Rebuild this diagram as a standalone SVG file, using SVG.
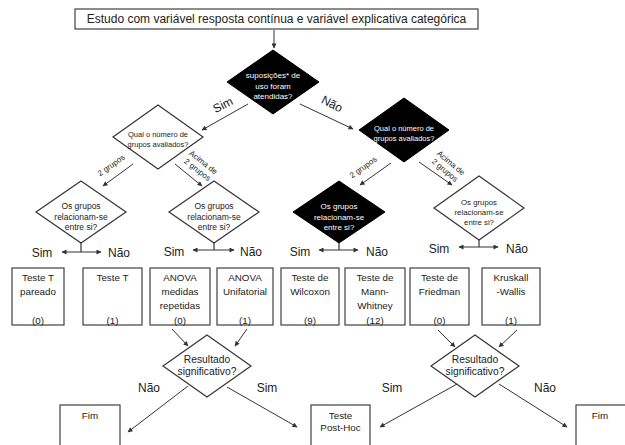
<svg xmlns="http://www.w3.org/2000/svg" width="625" height="445" viewBox="0 0 625 445">
<defs>
<marker id="ah" viewBox="0 0 10 10" refX="9" refY="5" markerWidth="6" markerHeight="5" markerUnits="userSpaceOnUse" orient="auto-start-reverse">
<path d="M0,0 L10,5 L0,10 z" fill="#333"/>
</marker>
<style>
text{font-family:"Liberation Sans",Arial,sans-serif;text-anchor:middle;fill:#222}
.box{fill:#fff;stroke:#404040;stroke-width:1.2}
.dw{fill:#fff;stroke:#333;stroke-width:1.2}
.db{fill:#000;stroke:#000;stroke-width:1}
.wt{fill:#fff}
.c{stroke:#333;stroke-width:1;fill:none;marker-end:url(#ah)}
.cc{stroke:#333;stroke-width:1;fill:none;marker-end:url(#ah);marker-start:url(#ah)}
.t{stroke:#333;stroke-width:1.2;fill:none}
.lbl{font-size:12px}
.bt{font-size:9.8px}
.sm{font-size:8px}
</style>
</defs>
<rect width="625" height="445" fill="#fff"/>

<g id="start">
<rect class="box" x="75" y="9" width="403" height="20"/>
<text x="276.5" y="23" font-size="12">Estudo com variável resposta contínua e variável explicativa categórica</text>
</g>

<g id="q-suposicoes">
<polygon class="db" points="273,50 319,82 273,114 227,82"/>
<text class="sm wt" x="273" y="78">suposições* de</text>
<text class="sm wt" x="273" y="88.5">uso foram</text>
<text class="sm wt" x="273" y="99">atendidas?</text>
</g>

<g id="q-grupos-sim">
<polygon class="dw" points="158,105 203,137 158,169 113,137"/>
<text x="158" y="137" font-size="7.5">Qual o número de</text>
<text x="158" y="147" font-size="7.5">grupos avaliados?</text>
</g>

<g id="q-grupos-nao">
<polygon class="db" points="404,98 449,130 404,162 359,130"/>
<text class="wt" x="404" y="131" font-size="7.5">Qual o número de</text>
<text class="wt" x="404" y="141" font-size="7.5">grupos avaliados?</text>
</g>

<g id="q-rel-a">
<polygon class="dw" points="81,181 126,212 81,243 36,212"/>
<text x="81" y="209" font-size="8.5">Os grupos</text>
<text x="81" y="219.5" font-size="8.5">relacionam-se</text>
<text x="81" y="230" font-size="8.5">entre si?</text>
</g>

<g id="q-rel-b">
<polygon class="dw" points="214,181 259,212 214,243 169,212"/>
<text x="214" y="209" font-size="8.5">Os grupos</text>
<text x="214" y="219.5" font-size="8.5">relacionam-se</text>
<text x="214" y="230" font-size="8.5">entre si?</text>
</g>

<g id="q-rel-c">
<polygon class="db" points="339,181 385,212 339,243 293,212"/>
<text class="wt" x="339" y="209" font-size="8">Os grupos</text>
<text class="wt" x="339" y="219.5" font-size="8">relacionam-se</text>
<text class="wt" x="339" y="230" font-size="8">entre si?</text>
</g>

<g id="q-rel-d">
<polygon class="dw" points="479,176 524,208 479,240 434,208"/>
<text x="479" y="205" font-size="7.8">Os grupos</text>
<text x="479" y="215" font-size="7.8">relacionam-se</text>
<text x="479" y="225" font-size="7.8">entre si?</text>
</g>

<g id="b1"><rect class="box" x="12" y="268" width="52" height="57"/>
<text class="bt" x="38" y="280.5">Teste T</text><text class="bt" x="38" y="295">pareado</text><text class="bt" x="38" y="323.5">(0)</text></g>
<g id="b2"><rect class="box" x="83" y="268" width="59" height="57"/>
<text class="bt" x="112.5" y="280.5">Teste T</text><text class="bt" x="112.5" y="323.5">(1)</text></g>
<g id="b3"><rect class="box" x="150" y="268" width="60" height="57"/>
<text class="bt" x="180" y="280.5">ANOVA</text><text class="bt" x="180" y="295">medidas</text><text class="bt" x="180" y="309">repetidas</text><text class="bt" x="180" y="323.5">(0)</text></g>
<g id="b4"><rect class="box" x="217" y="268" width="56" height="57"/>
<text class="bt" x="245" y="280.5">ANOVA</text><text class="bt" x="245" y="295">Unifatorial</text><text class="bt" x="245" y="323.5">(1)</text></g>
<g id="b5"><rect class="box" x="281" y="268" width="58" height="57"/>
<text class="bt" x="310" y="280.5">Teste de</text><text class="bt" x="310" y="295">Wilcoxon</text><text class="bt" x="310" y="323.5">(9)</text></g>
<g id="b6"><rect class="box" x="345" y="268" width="60" height="57"/>
<text class="bt" x="375" y="280.5">Teste de</text><text class="bt" x="375" y="295">Mann-</text><text class="bt" x="375" y="309">Whitney</text><text class="bt" x="375" y="323.5">(12)</text></g>
<g id="b7"><rect class="box" x="410" y="268" width="59" height="57"/>
<text class="bt" x="439.5" y="280.5">Teste de</text><text class="bt" x="439.5" y="295">Friedman</text><text class="bt" x="439.5" y="323.5">(0)</text></g>
<g id="b8"><rect class="box" x="482" y="268" width="58" height="57"/>
<text class="bt" x="511" y="280.5">Kruskall</text><text class="bt" x="511" y="295">-Wallis</text><text class="bt" x="511" y="323.5">(1)</text></g>

<g id="q-res-left">
<polygon class="dw" points="207,335 251,366 207,397 163,366"/>
<text x="207" y="362.5" font-size="10.3">Resultado</text>
<text x="207" y="374.5" font-size="10.3">significativo?</text>
</g>
<g id="q-res-right">
<polygon class="dw" points="475,335 519,366 475,397 431,366"/>
<text x="475" y="362.5" font-size="10.3">Resultado</text>
<text x="475" y="374.5" font-size="10.3">significativo?</text>
</g>

<g id="fim-left"><rect class="box" x="60" y="405" width="60" height="60"/>
<text class="bt" x="90" y="418.5">Fim</text></g>
<g id="posthoc"><rect class="box" x="311" y="405" width="59" height="60"/>
<text class="bt" x="340.5" y="418.5">Teste</text><text class="bt" x="340.5" y="430.5">Post-Hoc</text></g>
<g id="fim-right"><rect class="box" x="576" y="405" width="60" height="60"/>
<text class="bt" x="600" y="418.5">Fim</text></g>

<g id="connectors">
<line class="c" x1="274" y1="30" x2="274" y2="48"/>
<line class="c" x1="248" y1="104" x2="202" y2="130"/>
<line class="c" x1="300" y1="104" x2="353" y2="129"/>
<line class="c" x1="133" y1="164" x2="103" y2="186"/>
<line class="c" x1="175" y1="164" x2="202" y2="186"/>
<line class="c" x1="391" y1="163" x2="360" y2="185"/>
<line class="c" x1="419" y1="162" x2="452" y2="185"/>
<line class="t" x1="81" y1="243" x2="81" y2="252"/>
<line class="cc" x1="62" y1="252" x2="101" y2="252"/>
<line class="t" x1="214" y1="243" x2="214" y2="250"/>
<line class="cc" x1="193" y1="250" x2="234" y2="250"/>
<line class="t" x1="339" y1="243" x2="339" y2="250"/>
<line class="cc" x1="319" y1="250" x2="358" y2="250"/>
<line class="t" x1="479" y1="240" x2="479" y2="247"/>
<line class="cc" x1="459" y1="247" x2="498" y2="247"/>
<line class="c" x1="172" y1="329" x2="188" y2="346"/>
<line class="c" x1="247" y1="329" x2="235" y2="346"/>
<line class="c" x1="438" y1="330" x2="455" y2="347"/>
<line class="c" x1="517" y1="330" x2="499" y2="347"/>
<line class="c" x1="188" y1="386" x2="128" y2="432"/>
<line class="c" x1="227" y1="387" x2="297" y2="427"/>
<line class="c" x1="457" y1="384" x2="380" y2="427"/>
<line class="c" x1="499" y1="384" x2="567" y2="427"/>

<text class="lbl" transform="translate(223,105) rotate(-27)" y="4">Sim</text>
<text class="lbl" transform="translate(332,104) rotate(27)" y="4">Não</text>
<text font-size="8" transform="translate(111,165) rotate(-35)" y="3">2 grupos</text>
<g transform="translate(200.5,166) rotate(38)">
<text font-size="8" y="-2">Acima de</text>
<text font-size="8" y="7.5">2 grupos</text>
</g>
<text font-size="8" transform="translate(363,167) rotate(-35)" y="3">2 grupos</text>
<g transform="translate(448,166.5) rotate(40)">
<text font-size="8" y="-2">Acima de</text>
<text font-size="8" y="7.5">2 grupos</text>
</g>

<text class="lbl" x="42" y="257">Sim</text>
<text class="lbl" x="119" y="257">Não</text>
<text class="lbl" x="174" y="256">Sim</text>
<text class="lbl" x="251" y="256">Não</text>
<text class="lbl" x="300" y="256">Sim</text>
<text class="lbl" x="377" y="256">Não</text>
<text class="lbl" x="439" y="253">Sim</text>
<text class="lbl" x="517" y="253">Não</text>

<text class="lbl" x="149" y="392">Não</text>
<text class="lbl" x="267" y="392">Sim</text>
<text class="lbl" x="392" y="392">Sim</text>
<text class="lbl" x="545" y="392">Não</text>
</g>
</svg>
